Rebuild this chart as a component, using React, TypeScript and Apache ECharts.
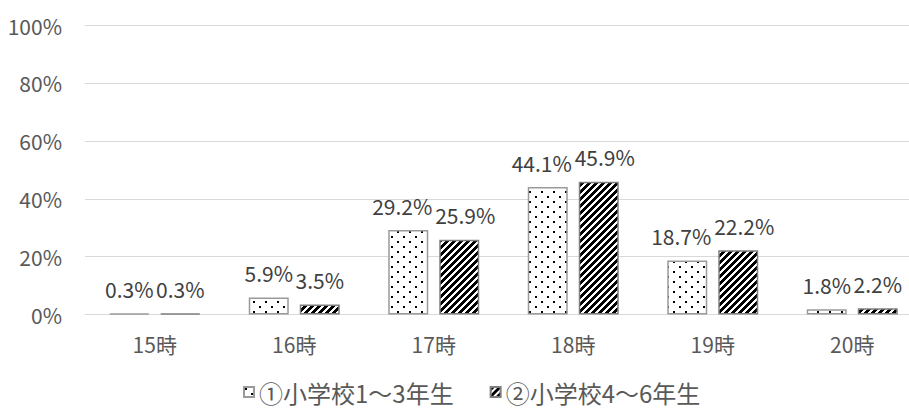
import React, { useEffect, useRef } from "react";
import * as echarts from "echarts";

const categories = ["15時", "16時", "17時", "18時", "19時", "20時"];
const seriesNames = ["①小学校1～3年生", "②小学校4～6年生"];
const grade1to3 = [0.3, 5.9, 29.2, 44.1, 18.7, 1.8];
const grade4to6 = [0.3, 3.5, 25.9, 45.9, 22.2, 2.2];
const yMax = 100;
const yInterval = 20;

const FONT = "'Noto Sans CJK JP', 'Noto Sans', sans-serif";

function makeTile(w: number, h: number, isBlack: (x: number, y: number) => boolean) {
  const c = document.createElement("canvas");
  c.width = w;
  c.height = h;
  const ctx = c.getContext("2d")!;
  ctx.fillStyle = "#ffffff";
  ctx.fillRect(0, 0, w, h);
  ctx.fillStyle = "#000000";
  for (let y = 0; y < h; y++) {
    for (let x = 0; x < w; x++) {
      if (isBlack(x, y)) ctx.fillRect(x, y, 1, 1);
    }
  }
  return { image: c.toDataURL(), repeat: "repeat", imageWidth: w, imageHeight: h };
}

export default function App() {
  const ref = useRef<HTMLDivElement>(null);

  useEffect(() => {
    if (!ref.current) return;
    const dots = [
      [1, 1],
      [7, 6],
    ];
    const dotted = makeTile(12, 10, (x, y) =>
      dots.some(([dx, dy]) => x >= dx && x < dx + 2 && y >= dy && y < dy + 2)
    );
    const hatched = makeTile(7, 7, (x, y) => (x + y) % 7 < 4);

    const chart = echarts.init(ref.current, null, { renderer: "svg" });

    const mkData = (vals: number[], shift: number) =>
      vals.map((v) => ({
        value: v,
        label: v >= 10 ? { offset: [shift, 0] } : undefined,
      }));

    chart.setOption({
      animation: false,
      grid: {
        left: 85,
        top: 25.5,
        width: 837,
        height: 289,
        containLabel: false,
        outerBoundsMode: "none",
      },
      legend: {
        left: 243,
        top: 380,
        padding: 0,
        itemWidth: 10,
        itemHeight: 10,
        itemGap: 36,
        icon: "rect",
        textStyle: { fontSize: 24, lineHeight: 24, color: "#595959", fontFamily: FONT },
        data: seriesNames,
      },
      xAxis: {
        type: "category",
        data: categories,
        axisLine: { lineStyle: { color: "#d9d9d9", width: 1 } },
        axisTick: { show: false },
        axisLabel: { color: "#595959", fontSize: 21, fontFamily: FONT, margin: 19 },
      },
      yAxis: {
        type: "value",
        min: 0,
        max: yMax,
        interval: yInterval,
        axisLine: { show: false },
        axisTick: { show: false },
        splitLine: { lineStyle: { color: "#d9d9d9", width: 1 } },
        axisLabel: {
          color: "#595959",
          fontSize: 21,
          fontFamily: FONT,
          margin: 23,
          formatter: "{value}%",
        },
      },
      series: [
        {
          name: seriesNames[0],
          type: "bar",
          data: mkData(grade1to3, -6),
          barWidth: 40,
          barGap: "27.5%",
          itemStyle: { color: dotted, borderColor: "#9a9a9a", borderWidth: 1.5 },
          label: {
            show: true,
            position: "top",
            distance: 14,
            color: "#404040",
            fontSize: 21,
            fontFamily: FONT,
            formatter: (p: any) => p.value.toFixed(1) + "%",
          },
        },
        {
          name: seriesNames[1],
          type: "bar",
          data: mkData(grade4to6, 6),
          barWidth: 40,
          barGap: "27.5%",
          itemStyle: { color: hatched, borderColor: "#7f7f7f", borderWidth: 1.5 },
          label: {
            show: true,
            position: "top",
            distance: 14,
            color: "#404040",
            fontSize: 21,
            fontFamily: FONT,
            formatter: (p: any) => p.value.toFixed(1) + "%",
          },
        },
      ],
    });

    return () => chart.dispose();
  }, []);

  return <div ref={ref} style={{ width: 909, height: 410, position: "absolute", left: 0, top: 0 }} />;
}
